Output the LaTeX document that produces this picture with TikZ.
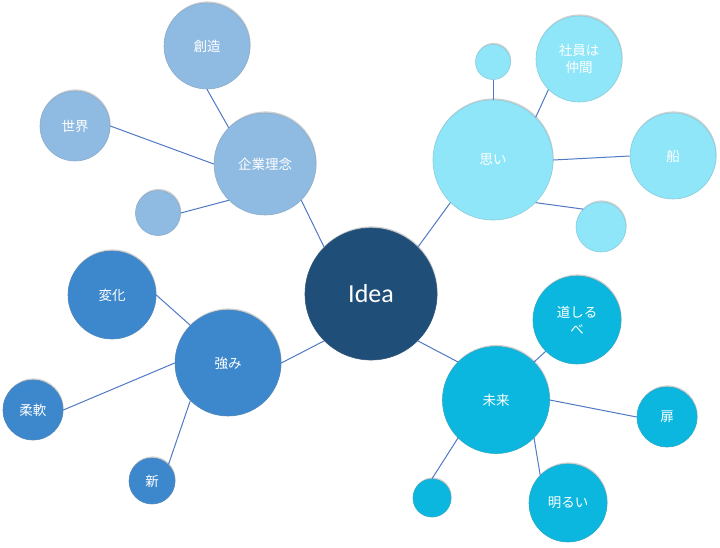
\documentclass[tikz,border=0pt]{standalone}
\usepackage{fontspec}
\setmainfont{Noto Sans CJK JP}
\newfontfamily\ideafont{Carlito}
\usetikzlibrary{shadows}
\definecolor{navy}{RGB}{31,78,121}
\definecolor{lblue}{RGB}{143,187,227}
\definecolor{lcyan}{RGB}{143,230,249}
\definecolor{mblue}{RGB}{61,136,205}
\definecolor{cyanb}{RGB}{11,183,223}
\definecolor{linkc}{RGB}{80,120,196}
\tikzset{
  bub/.style={circle, inner sep=0pt, minimum size=#1, text=white, font=\fontsize{13.5}{17}\selectfont, align=center,
    drop shadow={shadow xshift=0.6pt, shadow yshift=1.6pt, opacity=0.3, fill=black!60}},
  gA/.style={fill=lblue, draw=lblue!75!gray, line width=0.6pt},
  gB/.style={fill=lcyan, draw=lcyan!75!gray, line width=0.6pt},
  gC/.style={fill=mblue, draw=mblue!75!gray, line width=0.6pt},
  gD/.style={fill=cyanb, draw=cyanb!75!gray, line width=0.6pt},
  link/.style={draw=linkc, line width=1pt},
}
\begin{document}
\begin{tikzpicture}[x=1pt, y=-1pt]
\useasboundingbox (0,0) rectangle (720,547);
% center
\node[bub=132pt, fill=navy, draw=navy!80!gray, line width=0.6pt, font=\ideafont\fontsize{26}{30}\selectfont] (idea) at (371,294) {Idea};
% group A
\node[bub=102pt, gA] (kigyo) at (265,164) {企業理念};
\node[bub=86pt, gA] (souzou) at (207,46) {創造};
\node[bub=70pt, gA] (sekai) at (75,126) {世界};
\node[bub=45pt, gA] (sa) at (158,213) {};
% group B
\node[bub=120pt, gB] (omoi) at (493,160) {思い};
\node[bub=35pt, gB] (sb1) at (493,62) {};
\node[bub=86pt, gB] (shain) at (579,59) {社員は\\仲間};
\node[bub=86pt, gB] (fune) at (673,156) {船};
\node[bub=50pt, gB] (sb2) at (601,227) {};
% group C
\node[bub=106pt, gC] (tsuyomi) at (228,363) {強み};
\node[bub=88pt, gC] (henka) at (112,295) {変化};
\node[bub=60pt, gC] (juunan) at (33,410) {柔軟};
\node[bub=46pt, gC] (shin) at (152,481) {新};
% group D
\node[bub=107pt, gD] (mirai) at (496,400) {未来};
\node[bub=88pt, gD] (michi) at (577,320) {道しる\\べ};
\node[bub=60pt, gD] (tobira) at (667,417) {扉};
\node[bub=78pt, gD] (akarui) at (568,503) {明るい};
\node[bub=38pt, gD] (sd) at (432,498) {};
% links
\draw[link] (kigyo.-45) -- (idea.135);
\draw[link] (souzou.south) -- (kigyo.135);
\draw[link] (sekai.east) -- (kigyo.west);
\draw[link] (sa.east) -- (kigyo.225);
\draw[link] (omoi.225) -- (idea.45);
\draw[link] (sb1.south) -- (omoi.north);
\draw[link] (shain.225) -- (omoi.45);
\draw[link] (omoi.east) -- (fune.west);
\draw[link] (omoi.-45) -- (sb2.135);
\draw[link] (tsuyomi.east) -- (idea.225);
\draw[link] (henka.east) -- (tsuyomi.135);
\draw[link] (juunan.east) -- (tsuyomi.west);
\draw[link] (shin.45) -- (tsuyomi.225);
\draw[link] (idea.-45) -- (mirai.135);
\draw[link] (mirai.45) -- (michi.225);
\draw[link] (mirai.east) -- (tobira.west);
\draw[link] (mirai.-45) -- (akarui.135);
\draw[link] (mirai.225) -- (sd.north);
\end{tikzpicture}
\end{document}
